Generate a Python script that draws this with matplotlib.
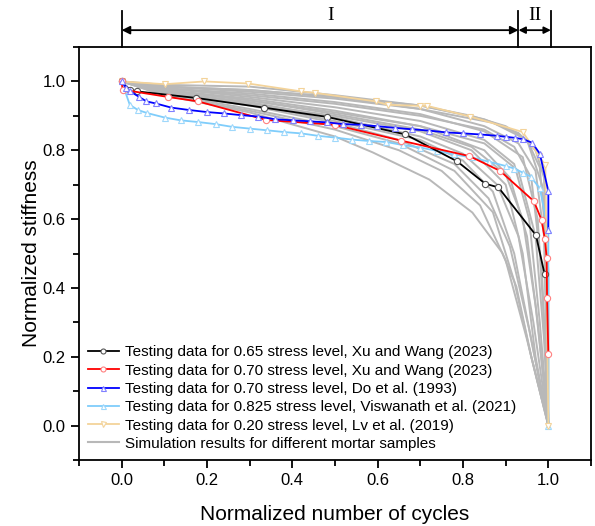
import matplotlib
matplotlib.use('Agg')
import matplotlib.pyplot as plt
from matplotlib.ticker import MultipleLocator

plt.rcParams['font.family'] = ['Liberation Sans', 'DejaVu Sans']

""" datos leidos de la figura """
# Xu and Wang (2023), 0.65
x_xu65 = [0.0, 0.019, 0.036, 0.175, 0.333, 0.481, 0.665, 0.786, 0.852, 0.883, 0.971, 0.991]
y_xu65 = [1.0, 0.976, 0.971, 0.952, 0.924, 0.897, 0.846, 0.768, 0.703, 0.692, 0.553, 0.441]

# Xu and Wang (2023), 0.70
x_xu70 = [0.0, 0.002, 0.108, 0.179, 0.339, 0.499, 0.655, 0.815, 0.887, 0.966, 0.984, 0.992, 0.996, 0.997, 1.0]
y_xu70 = [1.0, 0.976, 0.955, 0.942, 0.888, 0.874, 0.828, 0.783, 0.740, 0.652, 0.598, 0.541, 0.488, 0.371, 0.208]

# Do et al. (1993), 0.70
x_do = [0.0, 0.01, 0.02, 0.041, 0.058, 0.08, 0.116, 0.158, 0.2, 0.24, 0.28, 0.32, 0.36, 0.401,
        0.442, 0.482, 0.518, 0.56, 0.599, 0.641, 0.68, 0.721, 0.76, 0.801, 0.84, 0.88, 0.901,
        0.922, 0.941, 0.962, 0.98, 1.0, 1.0]
y_do = [1.0, 0.982, 0.971, 0.955, 0.942, 0.936, 0.924, 0.917, 0.911, 0.907, 0.902, 0.898, 0.890,
        0.887, 0.884, 0.881, 0.876, 0.874, 0.870, 0.865, 0.861, 0.857, 0.852, 0.849, 0.846, 0.842,
        0.839, 0.836, 0.832, 0.822, 0.790, 0.681, 0.568]

# Viswanath et al. (2021), 0.825
x_vis = [0.0, 0.019, 0.038, 0.06, 0.101, 0.138, 0.179, 0.22, 0.259, 0.3, 0.341, 0.38, 0.421, 0.46,
         0.499, 0.54, 0.579, 0.62, 0.66, 0.7, 0.739, 0.778, 0.821, 0.86, 0.901, 0.92, 0.94, 0.959,
         0.98, 1.0, 1.0]
y_vis = [1.0, 0.932, 0.917, 0.908, 0.895, 0.887, 0.882, 0.876, 0.868, 0.863, 0.858, 0.853, 0.849,
         0.842, 0.837, 0.831, 0.827, 0.824, 0.815, 0.808, 0.798, 0.788, 0.779, 0.767, 0.754, 0.747,
         0.735, 0.723, 0.689, 0.568, 0.0]

# Lv et al. (2019), 0.20
x_lv = [0.0, 0.101, 0.194, 0.296, 0.421, 0.452, 0.595, 0.624, 0.7, 0.716, 0.817, 0.94, 0.979, 0.993, 1.0]
y_lv = [1.0, 0.992, 1.0, 0.994, 0.971, 0.967, 0.942, 0.932, 0.929, 0.929, 0.898, 0.853, 0.782, 0.756, 0.0]

# simulaciones (morteros)
sim_x = [
    [0, 0.1, 0.3, 0.5, 0.7, 0.85, 0.93, 0.97, 0.99, 1.0],
    [0, 0.1, 0.3, 0.5, 0.7, 0.85, 0.93, 0.97, 0.99, 1.0],
    [0, 0.1, 0.3, 0.5, 0.7, 0.85, 0.92, 0.96, 0.985, 1.0],
    [0, 0.1, 0.3, 0.5, 0.7, 0.85, 0.92, 0.955, 0.98, 1.0],
    [0, 0.1, 0.3, 0.5, 0.7, 0.85, 0.91, 0.95, 0.975, 1.0],
    [0, 0.1, 0.3, 0.5, 0.7, 0.82, 0.9, 0.94, 0.97, 1.0],
    [0, 0.1, 0.3, 0.5, 0.7, 0.8, 0.88, 0.93, 0.965, 1.0],
    [0, 0.1, 0.3, 0.5, 0.7, 0.8, 0.87, 0.92, 0.96, 1.0],
    [0, 0.1, 0.3, 0.5, 0.65, 0.78, 0.86, 0.91, 0.955, 1.0],
    [0, 0.1, 0.3, 0.5, 0.65, 0.78, 0.87, 0.92, 0.96, 1.0],
    [0, 0.1, 0.3, 0.5, 0.65, 0.75, 0.84, 0.9, 0.95, 1.0],
    [0, 0.1, 0.3, 0.5, 0.588, 0.721, 0.822, 0.892, 0.925, 0.96, 1.0],
    [0, 0.1, 0.3, 0.5, 0.7, 0.82, 0.9, 0.95, 0.98, 0.99, 1.0],
    [0, 0.1, 0.3, 0.5, 0.7, 0.85, 0.93, 0.97, 0.99, 1.0],
    [0, 0.1, 0.3, 0.5, 0.7, 0.82, 0.9, 0.94, 0.97, 1.0],
    [0, 0.1, 0.3, 0.5, 0.7, 0.85, 0.94, 0.975, 0.99, 1.0],
    [0, 0.1, 0.3, 0.5, 0.7, 0.87, 0.95, 0.985, 1.0, 1.0],
]
sim_y = [
    [1, 0.99, 0.985, 0.96, 0.93, 0.89, 0.85, 0.80, 0.72, 0.0],
    [1, 0.985, 0.97, 0.95, 0.92, 0.87, 0.82, 0.74, 0.55, 0.0],
    [1, 0.98, 0.96, 0.935, 0.90, 0.86, 0.81, 0.72, 0.45, 0.0],
    [1, 0.98, 0.955, 0.925, 0.885, 0.83, 0.76, 0.60, 0.30, 0.0],
    [1, 0.975, 0.95, 0.915, 0.87, 0.80, 0.72, 0.55, 0.30, 0.0],
    [1, 0.975, 0.945, 0.905, 0.86, 0.81, 0.73, 0.60, 0.35, 0.0],
    [1, 0.97, 0.94, 0.895, 0.84, 0.79, 0.70, 0.55, 0.30, 0.0],
    [1, 0.97, 0.935, 0.885, 0.83, 0.77, 0.68, 0.50, 0.25, 0.0],
    [1, 0.965, 0.93, 0.88, 0.83, 0.76, 0.66, 0.52, 0.28, 0.0],
    [1, 0.965, 0.92, 0.87, 0.82, 0.74, 0.62, 0.42, 0.20, 0.0],
    [1, 0.96, 0.915, 0.86, 0.80, 0.74, 0.64, 0.48, 0.25, 0.0],
    [1, 0.96, 0.91, 0.84, 0.794, 0.715, 0.619, 0.502, 0.404, 0.20, 0.0],
    [1, 0.985, 0.975, 0.955, 0.93, 0.90, 0.87, 0.83, 0.75, 0.60, 0.0],
    [1, 0.975, 0.945, 0.91, 0.87, 0.82, 0.74, 0.55, 0.25, 0.0],
    [1, 0.97, 0.935, 0.90, 0.855, 0.80, 0.70, 0.50, 0.20, 0.0],
    [1, 0.98, 0.965, 0.94, 0.905, 0.855, 0.78, 0.60, 0.30, 0.0],
    [1, 0.985, 0.975, 0.955, 0.92, 0.88, 0.83, 0.70, 0.45, 0.0],
]

""" graficar """
fig = plt.figure(figsize=(5.95, 5.26), dpi=100)
ax = fig.add_axes([0.1328, 0.1255, 0.8605, 0.7851])

for xs, ys in zip(sim_x, sim_y):
    ax.plot(xs, ys, color='#b8b8b8', lw=1.4, zorder=1)

mk = dict(ms=4.5, mfc='white', mew=0.8, lw=1.3)
ax.plot(x_xu65, y_xu65, color='black', marker='o', mec='#555555', zorder=3,
        label='Testing data for 0.65 stress level, Xu and Wang (2023)', **mk)
ax.plot(x_xu70, y_xu70, color='red', marker='o', mec='#ff8080', zorder=3,
        label='Testing data for 0.70 stress level, Xu and Wang (2023)', **mk)
ax.plot(x_do, y_do, color='blue', marker='^', mec='#8080ff', zorder=3,
        label='Testing data for 0.70 stress level, Do et al. (1993)', **mk)
ax.plot(x_vis, y_vis, color='#7fcdfb', marker='^', mec='#9fd8fb', zorder=2,
        label='Testing data for 0.825 stress level, Viswanath et al. (2021)', **mk)
ax.plot(x_lv, y_lv, color='#f3d39a', marker='v', mec='#f3d39a', zorder=2,
        label='Testing data for 0.20 stress level, Lv et al. (2019)', **mk)
ax.plot([], [], color='#b8b8b8', lw=1.5, label='Simulation results for different mortar samples')

ax.set_xlim(-0.1, 1.1)
ax.set_ylim(-0.1, 1.1)
ax.xaxis.set_minor_locator(MultipleLocator(0.1))
ax.yaxis.set_minor_locator(MultipleLocator(0.1))
ax.set_xticks([0, 0.2, 0.4, 0.6, 0.8, 1.0])
ax.set_yticks([0, 0.2, 0.4, 0.6, 0.8, 1.0])
ax.tick_params(which='major', direction='out', length=6, width=1.3, labelsize=12)
ax.tick_params(which='minor', direction='out', length=4, width=1.3)
for s in ax.spines.values():
    s.set_linewidth(1.3)

ax.set_xlabel('Normalized number of cycles', fontsize=15, labelpad=12)
ax.set_ylabel('Normalized stiffness', fontsize=15, labelpad=1)

ax.legend(loc='lower left', bbox_to_anchor=(0.0, 0.0), frameon=False, fontsize=11,
          handlelength=2.0, handletextpad=0.4, labelspacing=0.28, borderaxespad=0.3,
          borderpad=0.3, markerscale=0.8)

# fases I y II arriba del grafico
y_top = 1.1
y_tall = 1.205
y_arr = 1.149
for xv in [0.0, 0.93, 1.006]:
    ax.plot([xv, xv], [y_top, y_tall], color='black', lw=1.3, clip_on=False)
ax.annotate('', xy=(0.0, y_arr), xytext=(0.93, y_arr), annotation_clip=False,
            arrowprops=dict(arrowstyle='<|-|>', color='black', lw=1.3, shrinkA=0, shrinkB=0,
                            mutation_scale=12))
ax.annotate('', xy=(0.93, y_arr), xytext=(1.006, y_arr), annotation_clip=False,
            arrowprops=dict(arrowstyle='<|-|>', color='black', lw=1.3, shrinkA=0, shrinkB=0,
                            mutation_scale=10))
ax.text(0.49, 1.192, 'I', ha='center', va='center', fontsize=14, family='Liberation Serif')
ax.text(0.968, 1.192, 'II', ha='center', va='center', fontsize=14, family='Liberation Serif')

plt.savefig('out.png', dpi=100)
